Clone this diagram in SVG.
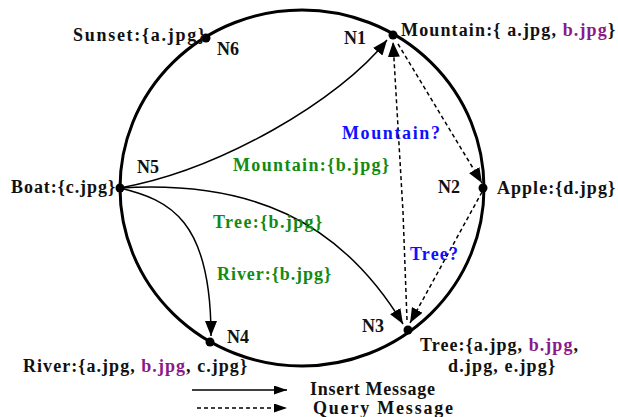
<svg xmlns="http://www.w3.org/2000/svg" width="618" height="417" viewBox="0 0 618 417">
<defs>
<style>
text{font-family:"Liberation Serif","Times New Roman",serif;font-weight:bold;font-size:18px;fill:#111}
.g{fill:#128a12}
.b{fill:#1010ff}
.p{fill:#8a1a8a}
.ring{fill:none;stroke:#000;stroke-width:3}
.dot{fill:#000}
.ins{fill:none;stroke:#000;stroke-width:1.5}
.qry{fill:none;stroke:#000;stroke-width:1.5;stroke-dasharray:4 3}
</style>
<marker id="ah" markerUnits="userSpaceOnUse" markerWidth="16" markerHeight="12" refX="15" refY="6" orient="auto">
<path d="M0,0 L15,6 L0,12 Z" fill="#000"/>
</marker>
<marker id="ahs" markerUnits="userSpaceOnUse" markerWidth="14" markerHeight="10" refX="13" refY="4.5" orient="auto">
<path d="M0,0 L13,4.5 L0,9 Z" fill="#000"/>
</marker>
</defs>
<rect width="618" height="417" fill="#fff"/>
<ellipse class="ring" cx="302" cy="188" rx="182" ry="178"/>
<g id="connectors">
<path class="ins" d="M120,188 C220,170 340,100 387,40" marker-end="url(#ah)"/>
<path class="ins" d="M120,188 C250,180 340,220 403,324" marker-end="url(#ah)"/>
<path class="ins" d="M120,188 C170,200 211,220 211,336" marker-end="url(#ah)"/>
<path class="qry" d="M398,44 L482,183" marker-end="url(#ah)"/>
<path class="qry" d="M482,192 L410,323" marker-end="url(#ah)"/>
<path class="qry" d="M407,320 L403,212 L393,42" marker-end="url(#ah)"/>
</g>
<g id="N1"><circle class="dot" cx="393" cy="35" r="4.5"/><text x="344" y="44">N1</text>
<text x="401" y="36" textLength="214" lengthAdjust="spacing">Mountain:{ a.jpg, <tspan class="p">b.jpg</tspan>}</text></g>
<g id="N2"><circle class="dot" cx="483" cy="188" r="4.5"/><text x="438" y="193">N2</text>
<text x="497" y="194" textLength="118" lengthAdjust="spacing">Apple:{d.jpg}</text></g>
<g id="N3"><circle class="dot" cx="408" cy="330" r="4.5"/><text x="362" y="332">N3</text>
<text x="420" y="351" textLength="158" lengthAdjust="spacing">Tree:{a.jpg, <tspan class="p">b.jpg</tspan>,</text>
<text x="448" y="372" textLength="107" lengthAdjust="spacing">d.jpg, e.jpg}</text></g>
<g id="N4"><circle class="dot" cx="210" cy="342" r="4.5"/><text x="227" y="343">N4</text>
<text x="23" y="372" textLength="224" lengthAdjust="spacing">River:{a.jpg, <tspan class="p">b.jpg</tspan>, c.jpg}</text></g>
<g id="N5"><circle class="dot" cx="120" cy="188" r="4.5"/><text x="137" y="173">N5</text>
<text x="11" y="193" textLength="104" lengthAdjust="spacing">Boat:{c.jpg}</text></g>
<g id="N6"><circle class="dot" cx="206" cy="38" r="4.5"/><text x="217" y="55">N6</text>
<text x="73" y="41" textLength="132" lengthAdjust="spacing">Sunset:{a.jpg}</text></g>
<g id="labels">
<text class="b" x="342" y="139" textLength="98" lengthAdjust="spacing">Mountain?</text>
<text class="b" x="410" y="260" textLength="48" lengthAdjust="spacing">Tree?</text>
<text class="g" x="233" y="171" textLength="156" lengthAdjust="spacing">Mountain:{b.jpg}</text>
<text class="g" x="213" y="228" textLength="109" lengthAdjust="spacing">Tree:{b.jpg}</text>
<text class="g" x="217" y="280" textLength="114" lengthAdjust="spacing">River:{b.jpg}</text>
</g>
<g id="legend">
<path class="ins" d="M192,390 L287,390" marker-end="url(#ahs)"/>
<path class="qry" d="M197,408 L287,408" marker-end="url(#ahs)"/>
<text x="310" y="395" textLength="125" lengthAdjust="spacing">Insert Message</text>
<text x="313" y="414" textLength="140" lengthAdjust="spacing">Query Message</text>
</g>
</svg>
